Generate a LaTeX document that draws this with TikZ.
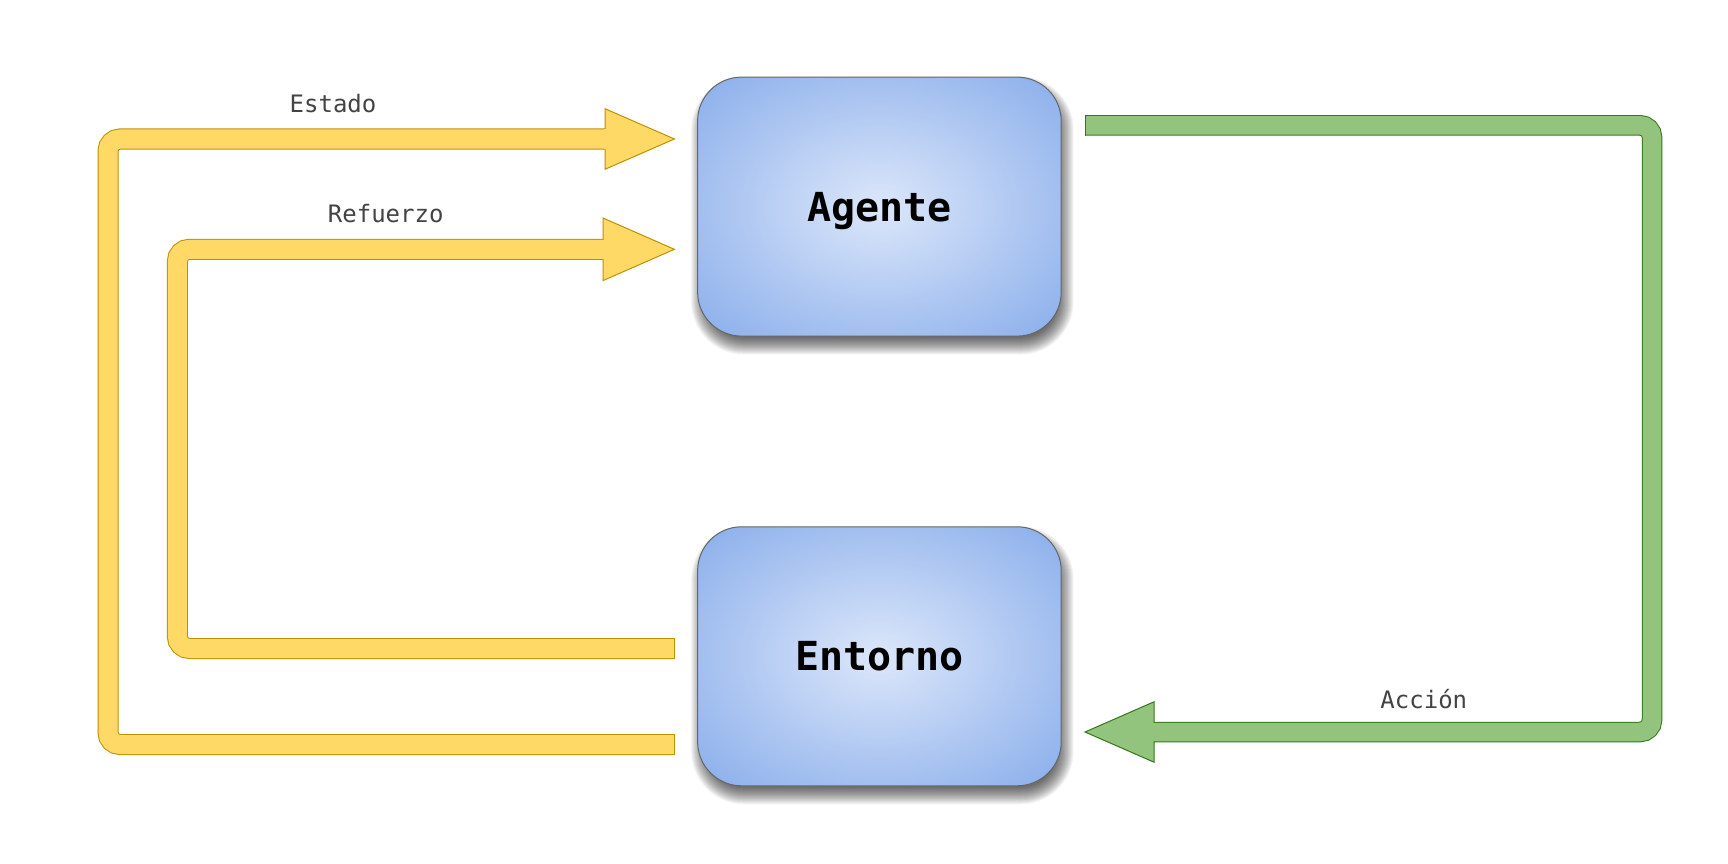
\documentclass[tikz,border=0pt]{standalone}
\usepackage{fontspec}
\newfontfamily\monofont{DejaVu Sans Mono}
\usetikzlibrary{calc,backgrounds}
\definecolor{yfill}{HTML}{FFD966}
\definecolor{ystroke}{HTML}{BF9000}
\definecolor{gfill}{HTML}{93C47D}
\definecolor{gstroke}{HTML}{38761D}
\definecolor{boxin}{HTML}{DCE7FA}
\definecolor{boxout}{HTML}{7AA3E8}
\definecolor{boxline}{HTML}{666666}
\definecolor{labelc}{HTML}{434343}
\pgfdeclareradialshading{boxshade}{\pgfpoint{0bp}{0bp}}{color(0bp)=(boxin); color(42bp)=(boxout); color(50bp)=(boxout)}
\begin{document}
\begin{tikzpicture}[x=1pt,y=-1pt,
  box/.style={draw=boxline, line width=1pt, rounded corners=44pt,
    minimum width=363.6pt, minimum height=259pt, shading=boxshade,
    font=\monofont\bfseries\fontsize{40}{48}\selectfont, inner sep=0pt,
    text height=29.2pt, text depth=0pt},
  lbl/.style={text=labelc, font=\monofont\fontsize{24}{28}\selectfont, inner sep=0pt},
  yband/.style={draw=ystroke, line width=1pt, double=yfill, double distance=19pt, rounded corners=12pt},
  gband/.style={draw=gstroke, line width=1pt, double=gfill, double distance=18.5pt, rounded corners=12pt},
  yhead/.style={draw=ystroke, fill=yfill, line width=1pt, line join=miter},
  ghead/.style={draw=gstroke, fill=gfill, line width=1pt, line join=miter}]
\useasboundingbox (0,0) rectangle (1728,864);

% boxes
\node[box] (agente) at (879.4,206.6) {Agente};
\node[box] (entorno) at (879.4,656.3) {Entorno};

% shadows
\begin{scope}[on background layer]
\fill[white] (0,0) rectangle (1728,864);
\foreach \n in {agente,entorno}{
  \foreach \k [evaluate=\k as \r using 44+\k] in {-8,...,9}{
    \fill[black, fill opacity=0.043, rounded corners=\r pt]
      ($(\n.north west)+(3-\k,9-\k)$) rectangle ($(\n.south east)+(3+\k,9+\k)$);
  }
}
\end{scope}

% Estado
\coordinate (es) at (674.4,744.5);
\coordinate (eb) at (605,139);
\coordinate (et) at (674.4,139);
\draw[yband] (es) -- (108,744.5) -- (108,139) -- (eb);
\draw[yhead] ($(eb)+(0,-30.3)$) -- (et) -- ($(eb)+(0,30.3)$) -- cycle;
\draw[yfill, line width=19pt] ($(eb)+(-1,0)$) -- ($(eb)+(1.5,0)$);
\draw[ystroke, line width=1pt] ($(es)+(0,-10.5)$) -- ($(es)+(0,10.5)$);
\node[lbl] (lest) at (333,103.6) {Estado};

% Refuerzo
\coordinate (rs) at (674.4,648.5);
\coordinate (rb) at (603,249.3);
\coordinate (rt) at (674.4,249.3);
\draw[yband] (rs) -- (177.4,648.5) -- (177.4,249.3) -- (rb);
\draw[yhead] ($(rb)+(0,-31.3)$) -- (rt) -- ($(rb)+(0,31.3)$) -- cycle;
\draw[yfill, line width=19pt] ($(rb)+(-1,0)$) -- ($(rb)+(1.5,0)$);
\draw[ystroke, line width=1pt] ($(rs)+(0,-10.5)$) -- ($(rs)+(0,10.5)$);
\node[lbl] (lref) at (385.7,213.8) {Refuerzo};

% Accion
\coordinate (as) at (1085,125.3);
\coordinate (ab) at (1154,732);
\coordinate (at) at (1085,732);
\draw[gband] (as) -- (1652,125.3) -- (1652,732) -- (ab);
\draw[ghead] ($(ab)+(0,-30.2)$) -- (at) -- ($(ab)+(0,30.2)$) -- cycle;
\draw[gfill, line width=18.5pt] ($(ab)+(1,0)$) -- ($(ab)+(-1.5,0)$);
\draw[gstroke, line width=1pt] ($(as)+(0,-10.25)$) -- ($(as)+(0,10.25)$);
\node[lbl] (lacc) at (1423.8,699.5) {Acción};
\end{tikzpicture}
\end{document}
